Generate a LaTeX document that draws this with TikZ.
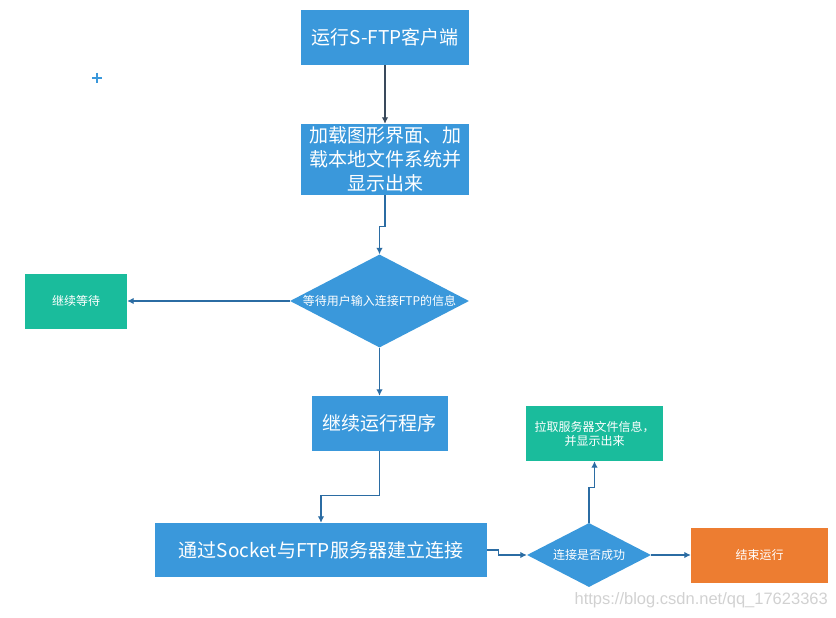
\documentclass[tikz,border=0pt]{standalone}
\usepackage{fontspec}
\newfontfamily\cjk{Noto Sans CJK SC}
\newfontfamily\wmfont{Liberation Sans}
\usetikzlibrary{shapes.geometric,arrows.meta}

\definecolor{boxblue}{HTML}{3A98DB}
\definecolor{boxgreen}{HTML}{1ABC9C}
\definecolor{boxorange}{HTML}{ED7D31}
\definecolor{linkblue}{HTML}{2B6CA3}
\definecolor{linkdark}{HTML}{3A4A5C}

\tikzset{
  bigbox/.style={rectangle, fill=boxblue, text=white, inner sep=0pt,
    font=\cjk\fontsize{19}{24}\selectfont, align=center},
  smallbox/.style={rectangle, text=white, inner sep=0pt,
    font=\cjk\fontsize{12}{14}\selectfont, align=center},
  choice/.style={diamond, fill=boxblue, text=white, inner sep=0pt,
    font=\cjk\fontsize{12}{15}\selectfont},
  link/.style={draw=linkblue, line width=1.2pt, -{Latex[length=6.5pt,width=6.5pt]}},
}

\begin{document}
\begin{tikzpicture}[x=1pt,y=-1pt]
\useasboundingbox (0,0) rectangle (836,618);

% main column
\node[bigbox, minimum width=168pt, minimum height=55pt] (run) at (385,37.5) {运行S-FTP客户端};
\node[bigbox, minimum width=168pt, minimum height=71pt] (load) at (385,159.5)
  {加载图形界面、加\\载本地文件系统并\\显示出来};
\node[choice, minimum width=179pt, minimum height=93pt, aspect=1.92] (inwait) at (379.5,301)
  {等待用户输入连接FTP的信息};
\node[smallbox, fill=boxgreen, minimum width=102pt, minimum height=55pt] (keepwait) at (76,301) {继续等待};
\node[bigbox, minimum width=136pt, minimum height=55pt] (cont) at (379.5,423.5) {继续运行程序};
\node[bigbox, minimum width=332pt, minimum height=54pt] (sock) at (321,550) {通过Socket与FTP服务器建立连接};

% right part
\node[choice, minimum width=124pt, minimum height=64pt, aspect=1.94] (ok) at (589,555) {连接是否成功};
\node[smallbox, fill=boxgreen, minimum width=137pt, minimum height=55pt] (pull) at (594.5,433.5)
  {拉取服务器文件信息，\\并显示出来};
\node[smallbox, fill=boxorange, minimum width=137pt, minimum height=55pt] (stop) at (759.5,555) {结束运行};

% links
\draw[link, draw=linkdark] (run) -- (load);
\draw[link] (load.south) -- ++(0,31) -| (inwait.north);
\draw[link] (inwait.west) -- (keepwait.east);
\draw[link] (inwait.south) -- (cont.north);
\draw[link] (cont.south) -- ++(0,44) -| (sock.north);
\draw[link] (sock.east) -- ++(11,0) |- (ok.west);
\draw[link] (ok.north) -- ++(0,-35) -| (pull.south);
\draw[link] (ok.east) -- (stop.west);

% stray cross mark
\draw[boxblue, line width=1.2pt] (92,78) -- (102,78) (97,73) -- (97,83);

\node[anchor=east, text=black!18, inner sep=0pt, font=\wmfont\fontsize{16.5}{19}\selectfont] (mark) at (828,600)
  {https://blog.csdn.net/qq\_17623363};
\end{tikzpicture}
\end{document}
